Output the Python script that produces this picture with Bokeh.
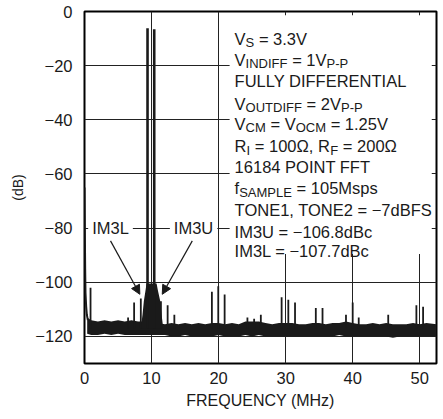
from bokeh.plotting import figure
from bokeh.models import (Range1d, FixedTicker, CustomJSTickFormatter, Label,
                          BoxAnnotation, Arrow, NormalHead)
from bokeh.embed import file_html
from bokeh.resources import INLINE

FONT = "Liberation Sans"
INK = "#1a1a1a"
FS = "16.5px"

# ---------------- data ----------------
x_ticks = [0, 10, 20, 30, 40, 50]
y_ticks = [0, -20, -40, -60, -80, -100, -120]
x_grid = [10, 20, 30, 40, 50]
y_grid = [-20, -40, -60, -80, -100, -120]

tone_freq = [9.4, 10.4]
tone_db = [-6.2, -6.6]

spur_freq = [0.9, 6.5, 7.4, 8.4, 11.4, 12.4, 13.4, 19.0, 19.95, 20.9, 24.3, 25.3,
             26.3, 29.4, 30.4, 31.4, 34.5, 35.5, 39.0, 40.0, 40.9, 45.3, 49.5, 50.5]
spur_db = [-102, -113, -107.5, -106, -107, -108.5, -112, -103.5, -101.5, -104.5, -113, -113.5,
           -112, -105.5, -106.5, -107.5, -109.5, -109.5, -112, -107.5, -113, -112, -108.5, -109]

floor_freq = [0.4, 1, 2, 3, 4, 5, 6, 7, 8, 9, 10, 11, 12, 13, 14, 15, 16, 17, 18, 19, 20,
              21, 22, 23, 24, 25, 26, 27, 28, 29, 30, 31, 32, 33, 34, 35, 36, 37, 38, 39,
              40, 41, 42, 43, 44, 45, 46, 47, 48, 49, 50, 51, 52.5]
floor_hi = [-113, -114, -114.5, -114, -114.5, -114, -114.5, -114, -114.5, -114.5, -114.5, -115,
            -115.5, -115, -115.5, -115, -115.5, -115, -115.5, -115, -115, -115.5, -115, -115.5,
            -114.5, -114.5, -114.5, -115, -115.5, -115, -115, -115, -115.5, -115.5, -115, -115,
            -115.5, -115, -115, -114.5, -115, -115.5, -115.5, -115, -115.5, -115, -115.5, -115.5,
            -115.5, -115, -115.5, -115, -115.5]
floor_lo = [-119, -119.5, -119.5, -119, -119.5, -119, -119.5, -119.5, -119.5, -119.5, -119.5, -119.5,
            -119.5, -120, -120, -119.5, -120, -120, -120, -120, -119.5, -120, -120, -120,
            -119.5, -120, -119.5, -120, -120, -120, -120, -120, -120, -120, -120, -120,
            -120, -120, -119.5, -120, -120, -120, -120, -120, -120, -120, -120.5, -120,
            -120, -120, -120, -120, -120]

skirt_freq = [8.5, 8.65, 8.85, 9.1, 9.25, 10.75, 10.95, 11.3, 11.5, 11.65]
skirt_db = [-115, -112, -107, -103, -100.5, -100.5, -103, -107, -112, -115]

dc_freq = [0.0, 0.05, 0.1, 0.15, 0.25, 0.35, 0.5]
dc_db = [-65, -80, -95, -104, -109, -112, -114]

# ---------------- helpers for placing annotation text ----------------
def px2x(px):
    return (px - 84.0) / 6.7


def px2y(py):
    return -(py - 11.3) / 2.7


AW = {' ': 278, '=': 584, '.': 278, ',': 278, '-': 333, '\u2212': 584, 'Ω': 768,
      '(': 333, ')': 333,
      'A': 667, 'B': 667, 'C': 722, 'D': 722, 'E': 667, 'F': 611, 'I': 278, 'L': 556,
      'M': 833, 'N': 722, 'O': 778, 'P': 667, 'R': 722, 'S': 667, 'T': 611, 'U': 722,
      'V': 667, 'Y': 667, 'a': 556, 'b': 556, 'c': 500, 'd': 556, 'e': 556, 'f': 278,
      'l': 222, 'm': 833, 'p': 556, 's': 500, 'z': 500}


def tw(s, size):
    return sum(AW.get(c, 556) for c in s) / 1000.0 * size


p = figure(width=443, height=419, output_backend="svg", toolbar_location=None,
           x_range=Range1d(0, 52.5), y_range=Range1d(-130, 0),
           min_border_left=84, min_border_right=7, min_border_top=11, min_border_bottom=56)
p.background_fill_color = "white"
p.border_fill_color = "white"
p.outline_line_color = "black"
p.outline_line_width = 2
p.outline_line_alpha = 1

for ax in (p.xaxis[0], p.yaxis[0]):
    ax.major_tick_in = 0
    ax.major_tick_out = 0
    ax.minor_tick_in = 0
    ax.minor_tick_out = 0
    ax.axis_line_color = None
    ax.major_label_text_font = FONT
    ax.major_label_text_font_size = FS
    ax.major_label_text_color = INK
    ax.axis_label_text_font = FONT
    ax.axis_label_text_font_style = "normal"
    ax.axis_label_text_color = INK

p.xaxis.ticker = FixedTicker(ticks=x_ticks)
p.yaxis.ticker = FixedTicker(ticks=y_ticks)
p.yaxis.formatter = CustomJSTickFormatter(
    code="return tick < 0 ? '\u2212' + Math.abs(tick) : tick.toFixed(0);")
p.xaxis.axis_label = "FREQUENCY (MHz)"
p.xaxis.axis_label_text_font_size = "16px"
p.xaxis.major_label_standoff = 8
p.xaxis.axis_label_standoff = 5
p.yaxis.axis_label = "(dB)"
p.yaxis.axis_label_text_font_size = "14px"
p.yaxis.major_label_standoff = 12
p.yaxis.axis_label_standoff = 6

p.xgrid.ticker = FixedTicker(ticks=x_grid)
p.ygrid.ticker = FixedTicker(ticks=y_grid)
for g in (p.xgrid[0], p.ygrid[0]):
    g.grid_line_color = "#222222"
    g.grid_line_width = 1
    g.grid_line_alpha = 1

# ---------------- spectrum ----------------
base = max(floor_lo) + 2
p.varea(x=floor_freq, y1=floor_lo, y2=floor_hi, color=INK)
p.varea(x=skirt_freq, y1=[base] * len(skirt_freq), y2=skirt_db, color=INK)
p.segment(x0=spur_freq, y0=[base] * len(spur_freq), x1=spur_freq, y1=spur_db,
          line_color=INK, line_width=1.8)
p.segment(x0=tone_freq, y0=[base] * len(tone_freq), x1=tone_freq, y1=tone_db,
          line_color=INK, line_width=2.6)
p.line(x=dc_freq, y=dc_db, line_color=INK, line_width=2)

# ---------------- text block ----------------
box = BoxAnnotation(left=px2x(229), right=px2x(431), top=px2y(15), bottom=px2y(253),
                    fill_color="white", fill_alpha=1, line_alpha=0)
p.add_layout(box)

MAIN = 16.5
SUB = 13.0
lines = [
    (38.3, [("V", 0), ("S", 1), (" = 3.3V", 0)]),
    (59.5, [("V", 0), ("INDIFF", 1), (" = 1V", 0), ("P-P", 1)]),
    (80.5, [("FULLY DIFFERENTIAL", 0)]),
    (103.5, [("V", 0), ("OUTDIFF", 1), (" = 2V", 0), ("P-P", 1)]),
    (123.3, [("V", 0), ("CM", 1), (" = V", 0), ("OCM", 1), (" = 1.25V", 0)]),
    (145.5, [("R", 0), ("I", 1), (" = 100Ω, R", 0), ("F", 1), (" = 200Ω", 0)]),
    (166.5, [("16184 POINT FFT", 0)]),
    (187.5, [("f", 0), ("SAMPLE", 1), (" = 105Msps", 0)]),
    (209.5, [("TONE1, TONE2 = \u22127dBFS", 0)]),
    (231.0, [("IM3U = \u2212106.8dBc", 0)]),
    (250.5, [("IM3L = \u2212107.7dBc", 0)]),
]
for base_px, pieces in lines:
    cur = 234.0
    for txt, sub in pieces:
        size = SUB if sub else MAIN
        yy = base_px + (4.0 if sub else 0)
        stripped = txt.lstrip(" ")
        cur += tw(txt[:len(txt) - len(stripped)], size)
        p.add_layout(Label(x=px2x(cur), y=px2y(yy), text=stripped, text_font=FONT,
                           text_font_size=f"{size}px", text_color=INK,
                           text_align="left", text_baseline="alphabetic"))
        cur += tw(stripped, size)

# ---------------- IM3 callouts ----------------
for cx, txt in ((110, "IM3L"), (193, "IM3U")):
    p.add_layout(Label(x=px2x(cx), y=-80, text=txt, text_font=FONT,
                       text_font_size=FS, text_color=INK, text_align="center",
                       text_baseline="middle", background_fill_color="white",
                       background_fill_alpha=1, padding=4))

for (xs, ys, xe, ye) in ((110, 240, 139.3, 293.3), (191.7, 240, 161.7, 293.3)):
    p.add_layout(Arrow(end=NormalHead(size=9, fill_color=INK, line_color=INK),
                       x_start=px2x(xs), y_start=px2y(ys), x_end=px2x(xe), y_end=px2y(ye),
                       line_color=INK, line_width=1.2))

open("out.html", "w").write(file_html(p, INLINE))
